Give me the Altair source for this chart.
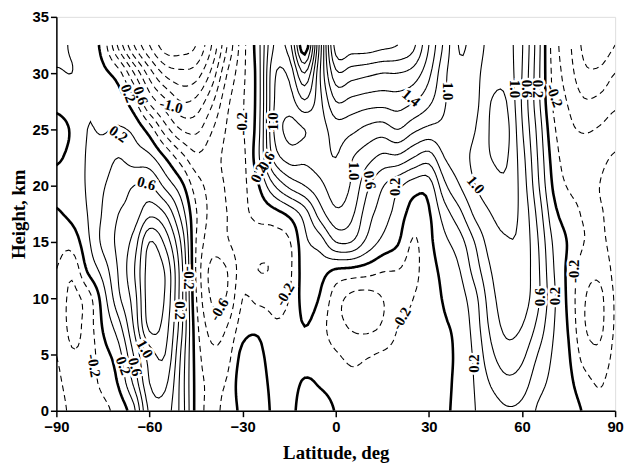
import numpy as np
import pandas as pd
import altair as alt

alt.data_transformers.disable_max_rows()

# Grid: latitude every 5 deg, height every 2.5 km (0 .. 32.5)
lats = list(range(-90, 91, 5))
heights = [0, 2.5, 5, 7.5, 10, 12.5, 15, 17.5, 20, 22.5, 25, 27.5, 30, 32.5]

# values, one list per latitude (bottom -> top)
z_m90 = [-0.1, -0.15, -0.2, -0.25, -0.25, -0.2, -0.12, -0.02, 0.05, -0.02, -0.05, 0.05, 0.18, 0.25]
z_m85 = [-0.25, -0.3, -0.38, -0.45, -0.45, -0.35, -0.12, 0.05, 0.1, 0.05, 0.02, 0.1, 0.2, 0.18]
z_m80 = [-0.3, -0.28, -0.32, -0.32, -0.3, 0.02, 0.15, 0.2, 0.22, 0.22, 0.2, 0.18, 0.12, 0.12]
z_m75 = [-0.25, -0.15, -0.08, 0.02, 0.1, 0.28, 0.45, 0.42, 0.38, 0.3, 0.18, 0.12, 0.05, -0.08]
z_m70 = [-0.12, 0.02, 0.12, 0.32, 0.55, 0.62, 0.65, 0.6, 0.5, 0.4, 0.22, 0.1, -0.12, -0.65]
z_m65 = [0.15, 0.45, 0.62, 0.82, 0.9, 0.98, 0.88, 0.68, 0.6, 0.3, 0.15, -0.15, -0.6, -1.2]
z_m60 = [0.85, 1.0, 1.1, 1.45, 1.52, 1.5, 1.4, 0.95, 0.62, 0.25, -0.1, -0.65, -1.1, -1.6]
z_m55 = [0.9, 1.05, 1.2, 1.3, 1.38, 1.38, 1.15, 0.8, 0.35, 0.0, -0.5, -0.95, -1.45, -1.9]
z_m50 = [0.55, 0.55, 0.6, 0.7, 0.72, 0.72, 0.6, 0.35, 0.08, -0.3, -0.8, -1.2, -1.55, -1.9]
z_m45 = [-0.06, -0.06, -0.08, -0.12, -0.18, -0.22, -0.2, -0.18, -0.3, -0.55, -0.85, -1.15, -1.5, -1.8]
z_m40 = [-0.25, -0.25, -0.35, -0.48, -0.62, -0.65, -0.5, -0.45, -0.45, -0.48, -0.62, -0.85, -1.15, -1.4]
z_m35 = [-0.12, -0.18, -0.28, -0.4, -0.58, -0.6, -0.42, -0.4, -0.38, -0.35, -0.38, -0.45, -0.6, -0.8]
z_m30 = [0.05, 0.12, 0.06, -0.1, -0.2, -0.3, -0.28, -0.25, -0.25, -0.25, -0.22, -0.22, -0.25, -0.28]
z_m25 = [0.1, 0.1, 0.06, -0.05, -0.25, -0.4, -0.3, -0.15, -0.02, 0.15, 0.12, 0.1, 0.1, 0.12]
z_m20 = [-0.03, -0.06, -0.12, -0.18, -0.25, -0.38, -0.3, -0.08, 0.38, 0.85, 1.0, 0.98, 0.95, 0.8]
z_m15 = [-0.05, -0.08, -0.15, -0.15, -0.2, -0.25, -0.22, 0.05, 0.65, 1.08, 1.25, 1.1, 0.95, 0.7]
z_m10 = [0.08, 0.02, -0.1, 0.0, 0.08, 0.1, 0.15, 0.3, 0.8, 1.05, 1.2, 0.82, 0.4, -0.15]
z_m05 = [0.08, -0.02, -0.1, -0.12, -0.02, 0.08, 0.3, 0.7, 0.95, 1.1, 1.12, 1.15, 1.2, 1.1]
z_p00 = [-0.01, -0.08, -0.18, -0.32, -0.3, -0.02, 0.6, 0.95, 1.1, 1.2, 1.3, 1.6, 1.95, 2.3]
z_p05 = [-0.1, -0.15, -0.25, -0.42, -0.45, -0.05, 0.6, 0.85, 0.98, 1.02, 1.25, 1.55, 1.9, 2.3]
z_p10 = [-0.12, -0.15, -0.22, -0.45, -0.48, -0.1, 0.35, 0.5, 0.65, 0.88, 1.15, 1.5, 1.85, 2.3]
z_p15 = [-0.12, -0.13, -0.18, -0.38, -0.4, -0.18, 0.15, 0.3, 0.42, 0.75, 1.1, 1.48, 1.8, 2.25]
z_p20 = [-0.1, -0.12, -0.15, -0.2, -0.28, -0.2, 0.02, 0.12, 0.25, 0.75, 1.2, 1.5, 1.8, 2.2]
z_p25 = [-0.08, -0.09, -0.1, -0.15, -0.2, -0.25, -0.22, -0.08, 0.1, 0.6, 1.05, 1.42, 1.72, 2.05]
z_p30 = [-0.05, -0.06, -0.08, -0.1, -0.1, -0.08, -0.05, -0.02, 0.1, 0.5, 0.95, 1.25, 1.45, 1.6]
z_p35 = [-0.02, -0.03, -0.04, -0.02, 0.02, 0.06, 0.15, 0.3, 0.55, 0.8, 0.95, 1.02, 1.05, 1.15]
z_p40 = [0.05, 0.05, 0.05, 0.06, 0.12, 0.2, 0.32, 0.55, 0.8, 0.92, 0.9, 0.88, 0.85, 0.78]
z_p45 = [0.2, 0.22, 0.25, 0.3, 0.35, 0.5, 0.62, 0.85, 1.0, 1.05, 1.0, 0.95, 0.95, 0.92]
z_p50 = [0.3, 0.42, 0.55, 0.65, 0.72, 0.8, 0.9, 1.0, 1.1, 1.2, 1.22, 1.2, 1.1, 1.05]
z_p55 = [0.38, 0.55, 0.72, 0.85, 0.92, 0.97, 0.99, 1.05, 1.15, 1.22, 1.25, 1.2, 1.12, 1.08]
z_p60 = [0.35, 0.5, 0.65, 0.8, 0.9, 0.93, 0.95, 0.95, 0.92, 0.88, 0.82, 0.78, 0.8, 0.82]
z_p65 = [0.18, 0.28, 0.4, 0.55, 0.65, 0.65, 0.62, 0.55, 0.45, 0.4, 0.35, 0.28, 0.28, 0.3]
z_p70 = [0.12, 0.15, 0.18, 0.22, 0.25, 0.22, 0.18, 0.08, -0.02, -0.08, -0.15, -0.22, -0.25, -0.28]
z_p75 = [0.08, 0.05, 0.02, -0.02, -0.05, -0.05, -0.02, -0.1, -0.22, -0.3, -0.35, -0.42, -0.5, -0.55]
z_p80 = [-0.02, -0.12, -0.28, -0.38, -0.38, -0.3, -0.2, -0.22, -0.25, -0.3, -0.42, -0.58, -0.75, -0.85]
z_p85 = [-0.15, -0.22, -0.35, -0.45, -0.45, -0.35, -0.25, -0.22, -0.2, -0.25, -0.38, -0.55, -0.75, -0.95]
z_p90 = [-0.08, -0.1, -0.15, -0.18, -0.18, -0.15, -0.12, -0.12, -0.12, -0.18, -0.3, -0.45, -0.6, -0.8]

columns = [z_m90, z_m85, z_m80, z_m75, z_m70, z_m65, z_m60, z_m55, z_m50, z_m45,
           z_m40, z_m35, z_m30, z_m25, z_m20, z_m15, z_m10, z_m05, z_p00, z_p05,
           z_p10, z_p15, z_p20, z_p25, z_p30, z_p35, z_p40, z_p45, z_p50, z_p55,
           z_p60, z_p65, z_p70, z_p75, z_p80, z_p85, z_p90]

levels = [round(v, 1) for v in np.arange(-2.0, 2.61, 0.2)]

# contour labels: text, latitude, height, angle
lab_text = ["0.2", "0.6", "-1.0", "0.2", "0.6", "-0.2", "1.0", "0.6", "0.2", "1.4",
            "1.0", "1.0", "0.6", "0.2", "1.0", "1.0", "0.6", "0.2", "-0.2", "0.6",
            "0.2", "-0.2", "0.2", "-0.2", "-0.2", "-0.6", "-0.2", "0.2", "1.0", "0.2",
            "0.6", "-0.2"]
lab_lat = [-66.8, -62.8, -53.0, -70.0, -61.0, -30.2, -20.1, -22.3, -24.9, 24.3,
           36.0, 5.7, 11.0, 19.0, 45.1, 57.8, 61.5, 65.2, 70.5, 65.7,
           70.5, 76.9, 44.5, 21.1, -16.4, -37.6, -47.2, -50.3, -61.5, -68.4,
           -64.6, -77.9]
lab_h = [28.2, 28.0, 27.1, 24.6, 20.2, 25.5, 25.7, 22.2, 21.1, 27.8,
         28.4, 21.3, 20.5, 19.9, 20.1, 28.6, 28.6, 28.6, 28.0, 10.1,
         10.2, 12.4, 4.2, 8.2, 10.35, 9.0, 11.8, 8.9, 5.5, 4.0,
         3.9, 4.0]
lab_angle = [70, 70, 15, 35, 15, 270, 270, 300, 295, 40,
             90, 90, 80, 270, 50, 90, 90, 90, 70, 270,
             270, 270, 270, 300, 300, 300, 90, 90, 60, 70,
             75, 80]


def cr_matrix(n, f):
    m = (n - 1) * f + 1
    W = np.zeros((m, n))
    for k in range(m):
        x = k / f
        i = min(int(np.floor(x)), n - 2)
        t = x - i
        idx = [max(i - 1, 0), i, i + 1, min(i + 2, n - 1)]
        w = [(-t ** 3 + 2 * t * t - t) / 2, (3 * t ** 3 - 5 * t * t + 2) / 2,
             (-3 * t ** 3 + 4 * t * t + t) / 2, (t ** 3 - t * t) / 2]
        for a, b in zip(idx, w):
            W[k, a] += b
    return W


Z0 = np.array(columns).T  # (heights, lats)
FH, FL = 8, 5
Wh = cr_matrix(len(heights), FH)
Wl = cr_matrix(len(lats), FL)
Z = Wh @ Z0 @ Wl.T
ys = np.linspace(heights[0], heights[-1], Z.shape[0])
xs = np.linspace(lats[0], lats[-1], Z.shape[1])


def contour_paths(lev):
    B = Z >= lev
    a = B[:-1, :-1]; b = B[:-1, 1:]; c = B[1:, 1:]; d = B[1:, :-1]
    case = a * 1 + b * 2 + c * 4 + d * 8
    ii, jj = np.nonzero((case != 0) & (case != 15))
    adj = {}

    def add(k1, k2):
        adj.setdefault(k1, []).append(k2)
        adj.setdefault(k2, []).append(k1)

    for i, j in zip(ii, jj):
        cs = case[i, j]
        L = ('v', i, j); R = ('v', i, j + 1); Bo = ('h', i, j); T = ('h', i + 1, j)
        if cs in (1, 14): add(L, Bo)
        elif cs in (2, 13): add(Bo, R)
        elif cs in (3, 12): add(L, R)
        elif cs in (4, 11): add(R, T)
        elif cs in (6, 9): add(Bo, T)
        elif cs in (7, 8): add(L, T)
        else:
            center = (Z[i, j] + Z[i, j + 1] + Z[i + 1, j] + Z[i + 1, j + 1]) / 4 >= lev
            if (cs == 5 and not center) or (cs == 10 and center):
                add(L, Bo); add(R, T)
            else:
                add(Bo, R); add(L, T)

    def pt(k):
        typ, i, j = k
        if typ == 'h':
            z1, z2 = Z[i, j], Z[i, j + 1]
            t = (lev - z1) / (z2 - z1) if z2 != z1 else 0.5
            return xs[j] + t * (xs[j + 1] - xs[j]), ys[i]
        z1, z2 = Z[i, j], Z[i + 1, j]
        t = (lev - z1) / (z2 - z1) if z2 != z1 else 0.5
        return xs[j], ys[i] + t * (ys[i + 1] - ys[i])

    visited = set()
    paths = []
    starts = [k for k, v in adj.items() if len(v) == 1] + list(adj.keys())
    for s in starts:
        if s in visited:
            continue
        path = [s]; visited.add(s); cur = s
        while True:
            nxt = [n for n in adj[cur] if n not in visited]
            if not nxt:
                if len(path) > 2 and s in adj[cur]:
                    path.append(s)
                break
            cur = nxt[0]; visited.add(cur); path.append(cur)
        if len(path) > 1:
            paths.append([pt(k) for k in path])
    return paths


rows = []
pid = 0
for lev in levels:
    style = 'zero' if abs(lev) < 1e-9 else ('neg' if lev < 0 else 'pos')
    for p in contour_paths(lev):
        for n, (x, y) in enumerate(p):
            rows.append((pid, n, round(float(x), 3), round(float(y), 3), style))
        pid += 1
lines_df = pd.DataFrame(rows, columns=['path', 'idx', 'lat', 'h', 'style'])

labels_df = pd.DataFrame({'text': lab_text, 'lat': lab_lat, 'h': lab_h, 'angle': lab_angle})

xscale = alt.Scale(domain=[-90, 90], nice=False, zero=False)
yscale = alt.Scale(domain=[0, 35], nice=False, zero=False)

axis_common = dict(grid=False, tickSize=6, tickWidth=1.5, tickColor='black',
                   domainColor='black', domainWidth=1.5,
                   labelFont='Liberation Sans', labelFontSize=15, labelFontWeight='bold',
                   labelColor='black', labelFlush=False, labelOverlap=False,
                   titleFont='Liberation Serif', titleFontSize=19, titleFontWeight='bold',
                   titleColor='black')

x_enc = alt.X('lat:Q', scale=xscale,
              axis=alt.Axis(values=[-90, -60, -30, 0, 30, 60, 90], title='Latitude, deg',
                            labelPadding=3, titlePadding=9, **axis_common))
y_enc = alt.Y('h:Q', scale=yscale,
              axis=alt.Axis(values=[0, 5, 10, 15, 20, 25, 30, 35], title='Height, km',
                            labelPadding=2, titlePadding=4, **axis_common))


def line_layer(style, width, dash):
    return alt.Chart(lines_df).transform_filter(
        alt.datum.style == style
    ).mark_line(color='black', clip=True, strokeWidth=width, strokeDash=dash).encode(
        x=x_enc, y=y_enc, detail='path:N', order='idx:Q')


neg_lines = line_layer('neg', 1.1, [6, 4])
pos_lines = line_layer('pos', 1.1, [1, 0])
zero_lines = line_layer('zero', 2.6, [1, 0])

lab_bg = alt.Chart(labels_df).mark_text(font='Liberation Serif', fontWeight='bold', fontSize=15,
                                         stroke='white', strokeWidth=5, fill='white',
                                         baseline='middle', align='center').encode(
    x=alt.X('lat:Q', scale=xscale), y=alt.Y('h:Q', scale=yscale),
    text='text:N', angle=alt.Angle('angle:Q', scale=None))

lab_fg = alt.Chart(labels_df).mark_text(font='Liberation Serif', fontWeight='bold', fontSize=15,
                                         color='black', baseline='middle', align='center').encode(
    x=alt.X('lat:Q', scale=xscale), y=alt.Y('h:Q', scale=yscale),
    text='text:N', angle=alt.Angle('angle:Q', scale=None))

chart = alt.layer(neg_lines, pos_lines, zero_lines, lab_bg, lab_fg).properties(
    width=566, height=399,
    autosize=alt.AutoSizeParams(type='none'),
    padding={'left': 49, 'top': 6, 'right': 10, 'bottom': 56},
).configure_view(stroke='black', strokeWidth=1.5).configure(background='white')

chart.save("out.html", embed_options={"renderer": "svg", "actions": False})
